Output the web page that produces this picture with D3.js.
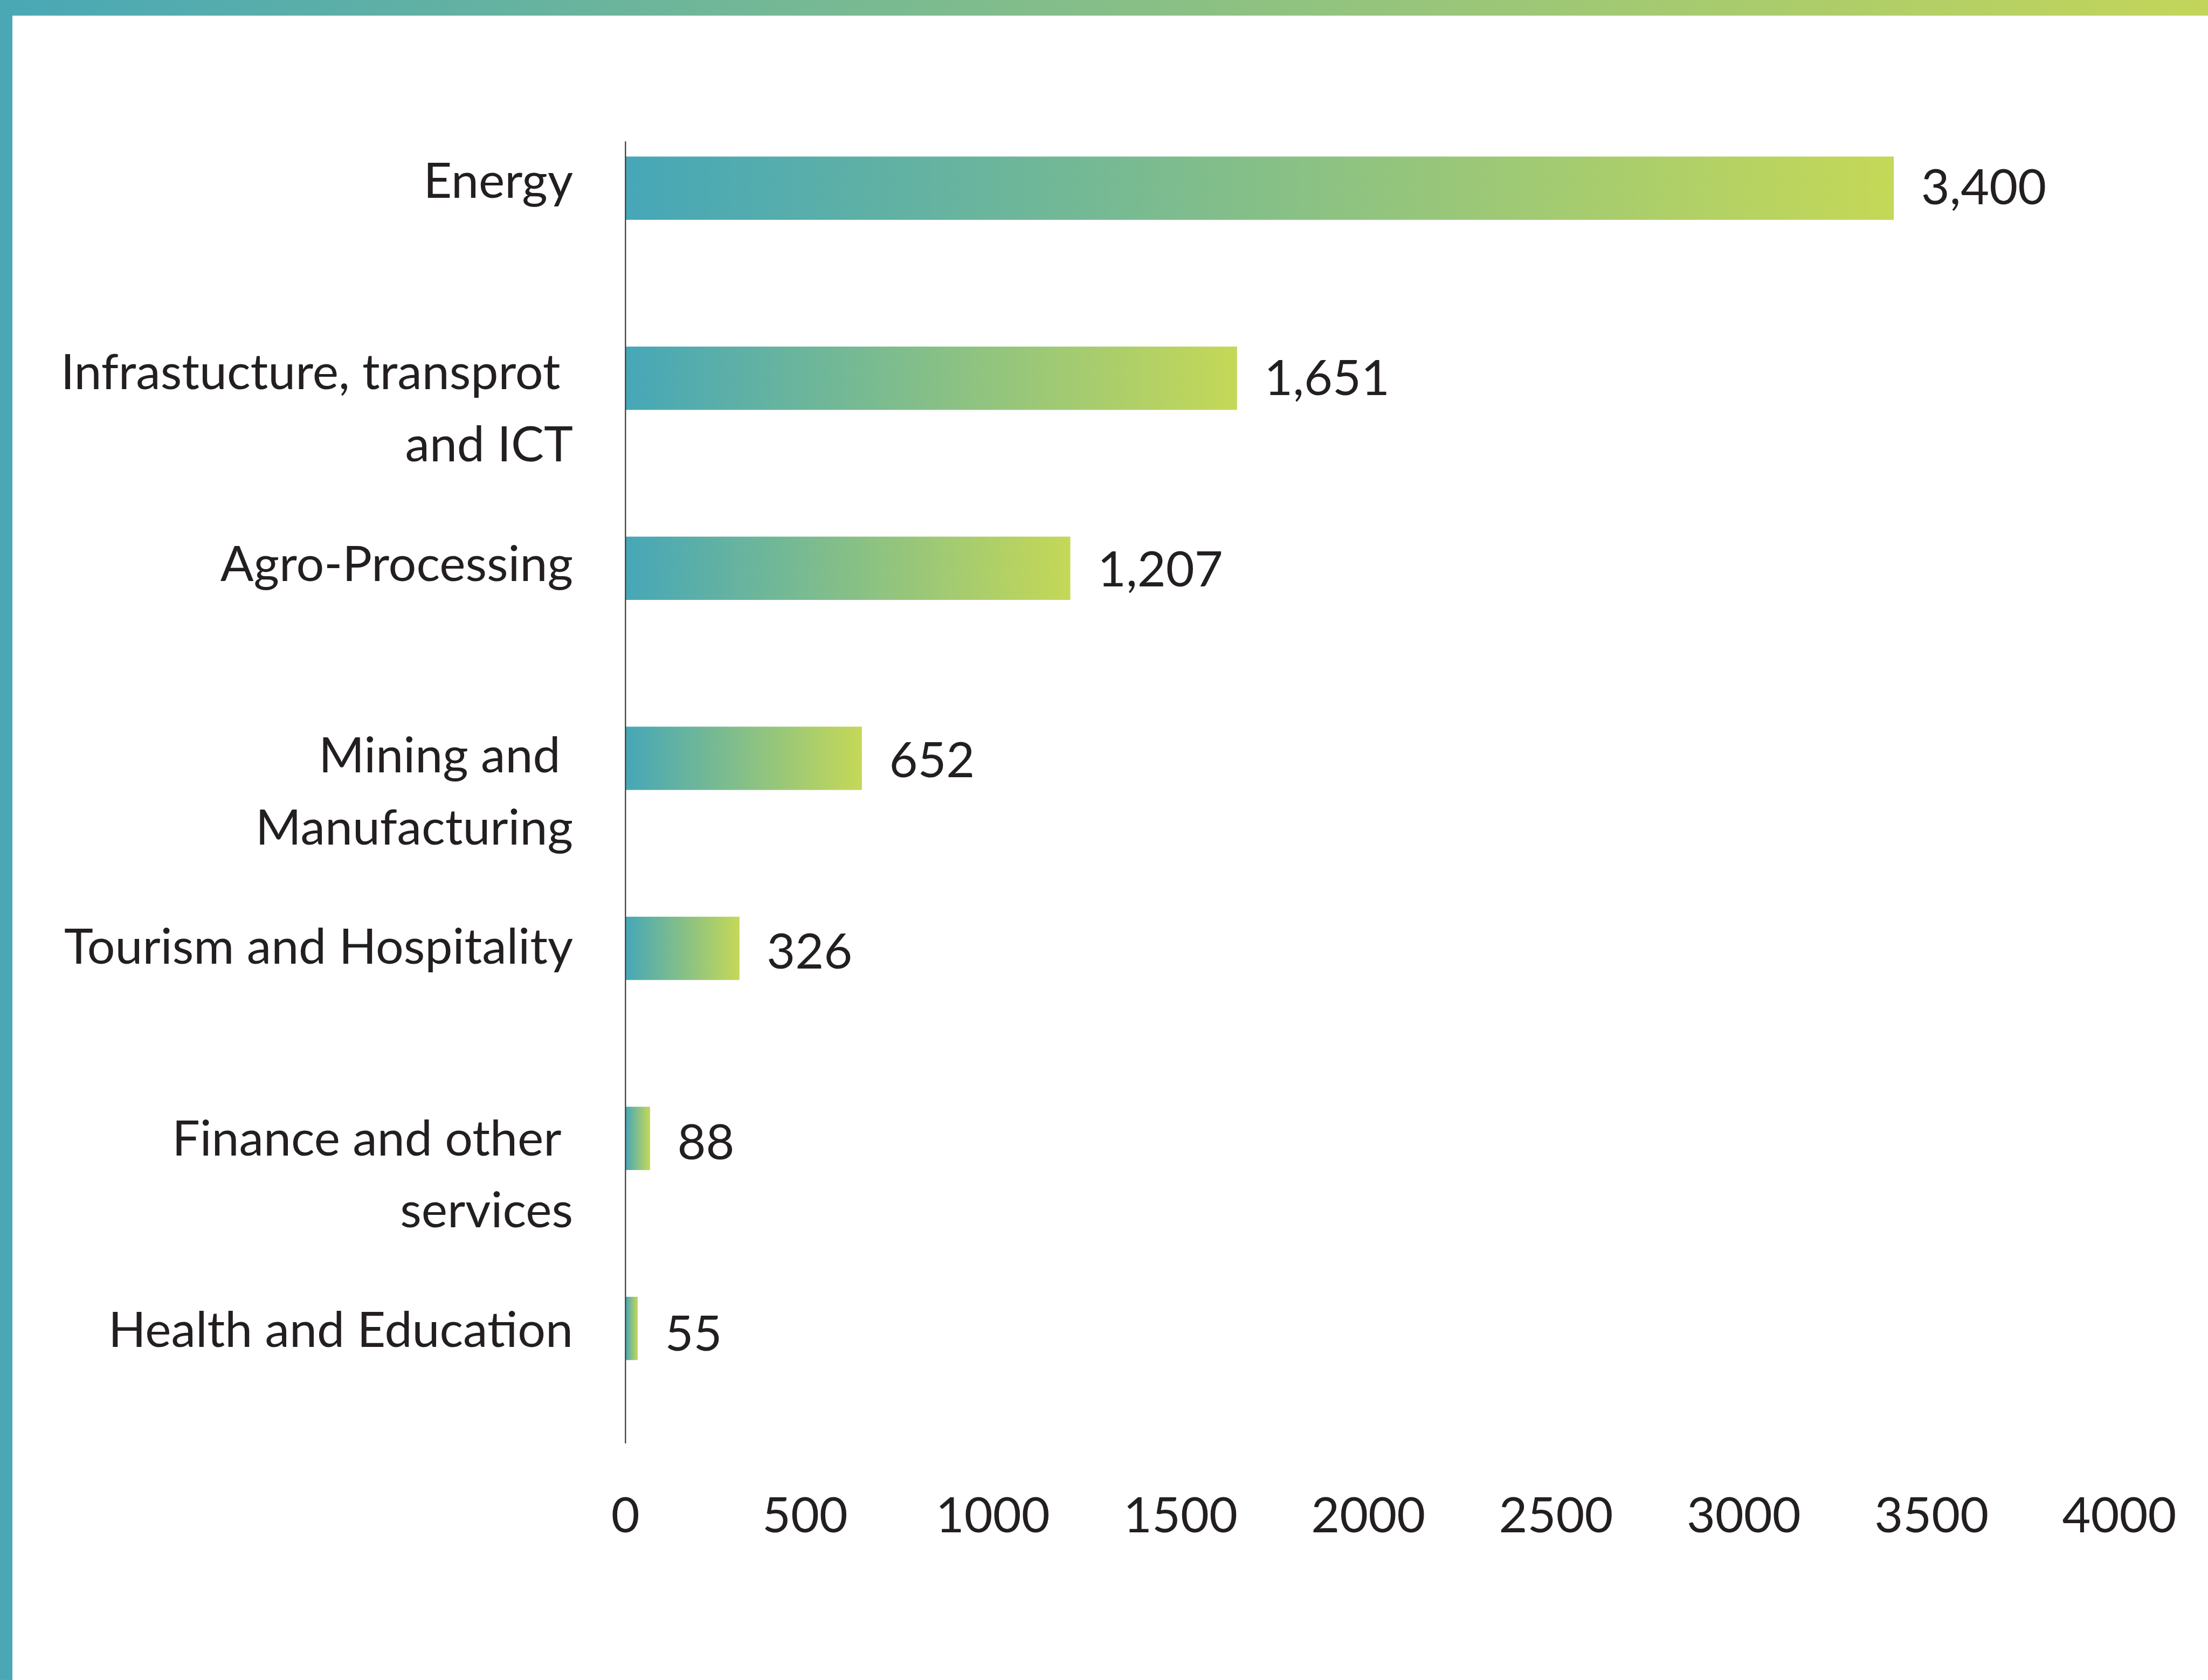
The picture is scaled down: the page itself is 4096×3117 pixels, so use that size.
<!DOCTYPE html>
<html>
<head>
<meta charset="utf-8">
<script src="https://cdn.jsdelivr.net/npm/d3@7"></script>
<style>
  body { margin: 0; background: #fff; overflow: hidden; }
  text { font-family: Lato, "Open Sans", sans-serif; fill: #231f20; white-space: pre; }
</style>
</head>
<body>
<div id="chart"></div>
<script>
// sector totals
var categories = [
    ["Energy"],
    ["Infrastucture, transprot ", "and ICT"],
    ["Agro-Processing"],
    ["Mining and ", "Manufacturing"],
    ["Tourism and Hospitality"],
    ["Finance and other ", "services"],
    ["Health and Education"]
];
var values = [3400, 1651, 1207, 652, 326, 88, 55];
var valueLabels = ["3,400", "1,651", "1,207", "652", "326", "88", "55"];
var ticks = [0, 500, 1000, 1500, 2000, 2500, 3000, 3500, 4000];

function sectorchart() {

    // drawn in the reference's own units, then scaled down to the window
    var refW = 5514,
        refH = 4196,
        width = 4096,
        height = 3117,
        k = width / refW;

    var fontSize = 123,
        lineGap = 180,
        axisX = 1562;

    var svg = d3.select("#chart")
        .append("svg")
        .attr("width", width)
        .attr("height", height);

    var defs = svg.append("defs");

    var grad = defs.append("linearGradient")
        .attr("id", "barfill")
        .attr("x1", "0%").attr("x2", "100%")
        .attr("y1", "0%").attr("y2", "0%");
    grad.append("stop").attr("offset", "0%").attr("stop-color", "#46a7b8");
    grad.append("stop").attr("offset", "100%").attr("stop-color", "#c5d857");

    var band = defs.append("linearGradient")
        .attr("id", "bandfill")
        .attr("x1", "0%").attr("x2", "100%")
        .attr("y1", "0%").attr("y2", "0%");
    band.append("stop").attr("offset", "0%").attr("stop-color", "#49a8b6");
    band.append("stop").attr("offset", "100%").attr("stop-color", "#c3d55a");

    var g = svg.append("g")
        .attr("transform", "scale(" + k + ")");

    // frame: gradient strip on top, teal strip on the left
    g.append("rect")
        .attr("x", 0).attr("y", 0)
        .attr("width", refW).attr("height", 39)
        .style("fill", "url(#bandfill)");

    g.append("rect")
        .attr("x", 0).attr("y", 0)
        .attr("width", 31).attr("height", refH)
        .style("fill", "#4aa8b5");

    // the zero of the scale sits a little left of the drawn axis line
    var x = d3.scaleLinear()
        .domain([0, 4000])
        .range([1541, 5292]);

    var y = d3.scaleBand()
        .domain(d3.range(values.length))
        .range([391, 3397])
        .paddingInner(0.667)
        .paddingOuter(0);

    // text rows are spaced a touch wider than the bars
    var yCat = d3.scalePoint()
        .domain(d3.range(values.length))
        .range([494, 3364]);

    var yVal = d3.scalePoint()
        .domain(d3.range(values.length))
        .range([510, 3373]);

    // bars
    g.append("g")
        .selectAll("rect")
        .data(values)
        .enter()
        .append("rect")
        .attr("x", axisX)
        .attr("y", function (d, i) { return y(i); })
        .attr("width", function (d) { return x(d) - axisX; })
        .attr("height", y.bandwidth())
        .style("fill", "url(#barfill)");

    // vertical axis line
    g.append("line")
        .attr("x1", axisX).attr("x2", axisX)
        .attr("y1", 353).attr("y2", 3605)
        .style("stroke", "#3a3a3a")
        .style("stroke-width", 3);

    // value labels
    g.append("g")
        .selectAll("text")
        .data(values)
        .enter()
        .append("text")
        .attr("x", function (d) { return x(d) + 68; })
        .attr("y", function (d, i) { return yVal(i); })
        .style("font-size", fontSize + "px")
        .text(function (d, i) { return valueLabels[i]; });

    // category labels (some wrap onto a second line)
    var cat = g.append("g")
        .selectAll("text")
        .data(categories)
        .enter()
        .append("text")
        .attr("text-anchor", "end")
        .attr("y", function (d, i) { return yCat(i); })
        .style("font-size", fontSize + "px");

    cat.selectAll("tspan")
        .data(function (d) { return d; })
        .enter()
        .append("tspan")
        .attr("x", 1431)
        .attr("dy", function (d, j) { return j === 0 ? 0 : lineGap; })
        .text(function (d) { return d; });

    // bottom axis, labels only
    var xAxis = d3.axisBottom(x)
        .tickValues(ticks)
        .tickFormat(d3.format("d"))
        .tickSize(0)
        .tickPadding(0);

    var ax = g.append("g")
        .attr("transform", "translate(0,3827)")
        .call(xAxis);

    ax.select(".domain").remove();
    // the "0" label sits under the axis line
    ax.selectAll(".tick")
        .filter(function (d) { return d === 0; })
        .attr("transform", "translate(" + axisX + ",0)");
    ax.selectAll("text")
        .attr("y", 0)
        .attr("dy", 0)
        .style("font-size", fontSize + "px")
        .style("font-family", "Lato, 'Open Sans', sans-serif")
        .style("fill", "#231f20");
}

sectorchart();
</script>
</body>
</html>
